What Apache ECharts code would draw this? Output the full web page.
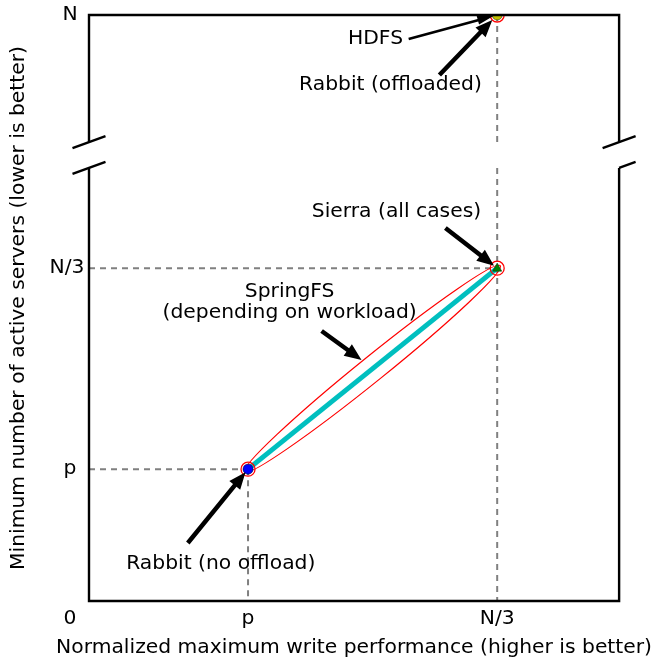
<!DOCTYPE html>
<html>
<head>
<meta charset="utf-8">
<script src="https://cdn.jsdelivr.net/npm/echarts@6/dist/echarts.min.js"></script>
<style>
  html, body { margin: 0; padding: 0; background: #fff; }
  #chart { width: 655px; height: 663px; }
</style>
</head>
<body>
<div id="chart"></div>
<script>
// Symbolic quantities placed on linear axes (arbitrary units)
const xTickValues = [0, 3, 7.7];
const xTickLabels = ['0', 'p', 'N/3'];
const yTickValues = [2.25, 5.68, 10];
const yTickLabels = ['p', 'N/3', 'N'];
const xRange = [0, 10];
const yRange = [0, 10];
// The y axis is broken between N/3 and N
const yBreak = [7.39, 7.83];

// Operating points: [normalized write performance, active servers]
const rabbitNoOffload = [3, 2.25];
const sierraAllCases = [7.7, 5.68];
const hdfs = [7.7, 10];
const rabbitOffloaded = [7.7, 10];
// SpringFS covers everything between Rabbit (no offload) and Sierra
const springFSRange = [rabbitNoOffload, sierraAllCases];

// Text callouts with arrows (text centre, arrow tail, arrow target, in axis units)
const callouts = [
  { text: 'HDFS', textAt: [5.405, 9.59], tail: [6.03, 9.59], head: hdfs, shrink: 4, thin: true },
  { text: 'Rabbit (offloaded)', textAt: [5.687, 8.81], tail: [6.61, 8.976], head: rabbitOffloaded, shrink: 7 },
  { text: 'Sierra (all cases)', textAt: [5.80, 6.638], tail: [6.723, 6.365], head: sierraAllCases, shrink: 4 },
  { text: 'SpringFS\n(depending on workload)', textAt: [3.785, 5.094], tail: [4.388, 4.608], head: [5.141, 4.113], shrink: 0 },
  { text: 'Rabbit (no offload)', textAt: [2.486, 0.631], tail: [1.864, 0.99], head: rabbitNoOffload, shrink: 4 }
];

// Dashed reference lines: [x1, y1, x2, y2]
const guides = [
  [0, sierraAllCases[1], sierraAllCases[0], sierraAllCases[1]],
  [0, rabbitNoOffload[1], rabbitNoOffload[0], rabbitNoOffload[1]],
  [rabbitNoOffload[0], rabbitNoOffload[1], rabbitNoOffload[0], 0],
  [sierraAllCases[0], yBreak[0], sierraAllCases[0], 0],
  [hdfs[0], hdfs[1], hdfs[0], yBreak[1]]
];

// Marker kinds: 0 blue dot, 1 green triangle, 2 yellow dot
const markerPoints = [
  [rabbitNoOffload[0], rabbitNoOffload[1], 0],
  [sierraAllCases[0], sierraAllCases[1], 1],
  [hdfs[0], hdfs[1], 2]
];

const FONT_FAMILY = '"DejaVu Sans", "Liberation Sans", sans-serif';
const FONT_SIZE = 20.3;
const FONT = FONT_SIZE + 'px ' + FONT_FAMILY;

const chart = echarts.init(document.getElementById('chart'), null, { renderer: 'canvas' });

function renderGuide(params, api) {
  const a = api.coord([api.value(0), api.value(1)]);
  const b = api.coord([api.value(2), api.value(3)]);
  return {
    type: 'line',
    shape: { x1: a[0], y1: a[1], x2: b[0], y2: b[1] },
    style: { stroke: '#808080', lineWidth: 2, lineDash: [6, 5], fill: null }
  };
}

function renderEnvelope(params, api) {
  const a = api.coord([api.value(0), api.value(1)]);
  const b = api.coord([api.value(2), api.value(3)]);
  const cx = (a[0] + b[0]) / 2, cy = (a[1] + b[1]) / 2;
  const len = Math.hypot(b[0] - a[0], b[1] - a[1]);
  const ang = Math.atan2(b[1] - a[1], b[0] - a[0]);
  return {
    type: 'ellipse',
    x: cx, y: cy,
    rotation: -ang,
    shape: { cx: 0, cy: 0, rx: len / 2 + 4, ry: 12.5 },
    style: { stroke: '#ff0000', lineWidth: 1.2, fill: null }
  };
}

function renderMarker(params, api) {
  const p = api.coord([api.value(0), api.value(1)]);
  const kind = api.value(2);
  const cs = params.coordSys;
  const children = [];
  children.push({
    type: 'circle',
    shape: { cx: p[0], cy: p[1], r: 7 },
    style: { stroke: '#ff0000', lineWidth: 1.3, fill: null }
  });
  if (kind === 0) {
    children.push({ type: 'circle', shape: { cx: p[0], cy: p[1], r: 5 },
      style: { fill: '#0000ff', stroke: '#000033', lineWidth: 0.6 } });
  } else if (kind === 1) {
    children.push({ type: 'polygon',
      shape: { points: [[p[0], p[1] - 5], [p[0] + 4.5, p[1] + 3], [p[0] - 4.5, p[1] + 3]] },
      style: { fill: '#008000', stroke: '#003300', lineWidth: 0.6 } });
  } else {
    children.push({ type: 'circle', shape: { cx: p[0], cy: p[1], r: 5 },
      style: { fill: '#bfbf00', stroke: '#333300', lineWidth: 0.6 } });
  }
  return {
    type: 'group',
    children: children,
    // markers sitting on the plot edge are cut by the plotting area
    clipPath: { type: 'rect', shape: { x: cs.x, y: cs.y, width: cs.width, height: cs.height } }
  };
}

function renderCallout(params, api) {
  const c = callouts[params.dataIndex];
  const t = api.coord(c.tail);
  let h = api.coord(c.head);
  const dx = h[0] - t[0], dy = h[1] - t[1];
  const d = Math.hypot(dx, dy);
  const ux = dx / d, uy = dy / d;
  h = [h[0] - ux * c.shrink, h[1] - uy * c.shrink];
  const nx = -uy, ny = ux;
  const shaft = c.thin ? 2.6 : 4.5;
  const headW = c.thin ? 9 : 14;
  const headL = c.thin ? 16 : 17;
  const bx = h[0] - ux * headL, by = h[1] - uy * headL;
  const pts = [
    [t[0] + nx * shaft / 2, t[1] + ny * shaft / 2],
    [bx + nx * shaft / 2, by + ny * shaft / 2],
    [bx + nx * headW / 2, by + ny * headW / 2],
    [h[0], h[1]],
    [bx - nx * headW / 2, by - ny * headW / 2],
    [bx - nx * shaft / 2, by - ny * shaft / 2],
    [t[0] - nx * shaft / 2, t[1] - ny * shaft / 2]
  ];
  const tp = api.coord(c.textAt);
  return {
    type: 'group',
    children: [
      { type: 'polygon', shape: { points: pts }, style: { fill: '#000', stroke: null } },
      { type: 'text', x: tp[0], y: tp[1],
        style: { text: c.text, font: FONT, fill: '#000', align: 'center',
                 verticalAlign: 'middle', lineHeight: 21 } }
    ]
  };
}

function renderFrame(params, api) {
  const bl = api.coord([xRange[0], yRange[0]]);
  const tr = api.coord([xRange[1], yRange[1]]);
  const bTop = api.coord([xRange[0], yBreak[1]])[1];
  const bBot = api.coord([xRange[0], yBreak[0]])[1];
  const L = bl[0], R = tr[0], T = tr[1], B = bl[1];
  const sx = 16.5, sy = 6;
  const st = { stroke: '#000', lineWidth: 2.4, fill: null, lineJoin: 'miter', lineCap: 'butt' };
  const line = (x1, y1, x2, y2) => ({ type: 'line', shape: { x1, y1, x2, y2 }, style: st });
  return {
    type: 'group',
    children: [
      { type: 'polyline', shape: { points: [[L, bTop], [L, T], [R, T], [R, bTop]] }, style: st },
      { type: 'polyline', shape: { points: [[L, bBot], [L, B], [R, B], [R, bBot]] }, style: st },
      line(L - sx, bTop + sy, L + sx, bTop - sy),
      line(L - sx, bBot + sy, L + sx, bBot - sy),
      line(R - sx, bTop + sy, R + sx, bTop - sy),
      line(R, bBot, R + sx, bBot - sy)
    ]
  };
}

const labelFont = { fontFamily: FONT_FAMILY, fontSize: FONT_SIZE, color: '#000' };

const option = {
  animation: false,
  backgroundColor: '#fff',
  grid: { left: 89, right: 35, top: 15, bottom: 62, containLabel: false },
  xAxis: {
    type: 'value',
    min: xRange[0], max: xRange[1],
    name: 'Normalized maximum write performance (higher is better)',
    nameLocation: 'middle',
    nameGap: 37,
    nameTextStyle: labelFont,
    axisLine: { show: false },
    axisTick: { show: false },
    splitLine: { show: false },
    axisLabel: {
      customValues: xTickValues,
      margin: 8,
      formatter: v => {
        const i = xTickValues.indexOf(v);
        return i === 0 ? '{zero|' + xTickLabels[i] + '}' : xTickLabels[i];
      },
      rich: { zero: Object.assign({ padding: [0, 38, 0, 0] }, labelFont) },
      ...labelFont
    }
  },
  yAxis: {
    type: 'value',
    min: yRange[0], max: yRange[1],
    name: 'Minimum number of active servers (lower is better)',
    nameLocation: 'middle',
    nameGap: 60,
    nameTextStyle: labelFont,
    axisLine: { show: false },
    axisTick: { show: false },
    splitLine: { show: false },
    axisLabel: {
      customValues: yTickValues,
      margin: 19,
      align: 'center',
      formatter: v => {
        const i = yTickValues.indexOf(v);
        return yTickLabels[i] === 'N/3' ? '{wide|' + yTickLabels[i] + '}' : yTickLabels[i];
      },
      rich: { wide: Object.assign({ padding: [0, 6, 0, 0] }, labelFont) },
      ...labelFont
    }
  },
  series: [
    { type: 'custom', name: 'guides', data: guides, renderItem: renderGuide,
      clip: false, silent: true, z: 1 },
    { type: 'custom', name: 'SpringFS envelope', data: [[springFSRange[0][0], springFSRange[0][1], springFSRange[1][0], springFSRange[1][1]]],
      renderItem: renderEnvelope, clip: false, silent: true, z: 2 },
    { type: 'line', name: 'SpringFS', data: springFSRange, symbol: 'none',
      lineStyle: { color: '#00bfbf', width: 5 }, silent: true, z: 3 },
    { type: 'custom', name: 'systems', data: markerPoints, renderItem: renderMarker,
      clip: true, silent: true, z: 5 },
    { type: 'custom', name: 'callouts', data: callouts.map((c, i) => [i]), renderItem: renderCallout,
      clip: false, silent: true, z: 6 },
    { type: 'custom', name: 'frame', data: [[0]], renderItem: renderFrame,
      clip: false, silent: true, z: 10 }
  ]
};

chart.setOption(option);
</script>
</body>
</html>
